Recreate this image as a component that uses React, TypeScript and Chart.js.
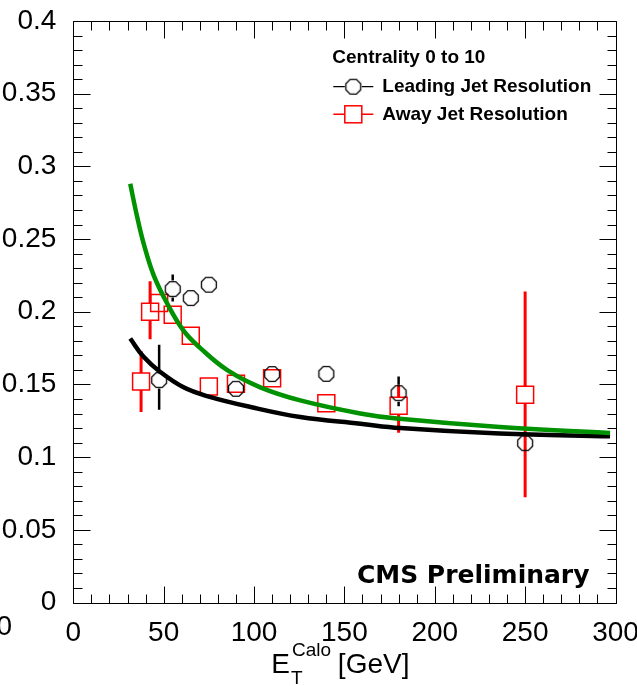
import React, { useEffect, useRef } from "react";
import { Chart, registerables } from "chart.js";

Chart.register(...registerables);

// ---------------- data ----------------
const xMin = 0;
const xMax = 300;
const xMajorStep = 50;
const xMinorStep = 10;
const yMin = 0;
const yMax = 0.4;
const yMajorStep = 0.05;
const yMinorStep = 0.01;

const legendHeader = "Centrality 0 to 10";
const leadingLabel = "Leading Jet Resolution";
const awayLabel = "Away Jet Resolution";
const cmsLabel = "CMS Preliminary";

// Leading jet resolution (black open circles)
const leadingX = [47.5, 55, 65, 75, 90, 110, 140, 180, 250];
const leadingY = [0.153, 0.2156, 0.2094, 0.2186, 0.147, 0.1571, 0.1573, 0.144, 0.1096];
const leadingLow = [0.1326, 0.2071, 0.2054, 0.2146, 0.143, 0.1531, 0.1533, 0.135, 0.1046];
const leadingHigh = [0.1773, 0.2256, 0.2134, 0.2226, 0.151, 0.1611, 0.1613, 0.1555, 0.1146];

// Away jet resolution (red open squares)
const awayX = [37.5, 42.5, 47.5, 55, 65, 75, 90, 110, 140, 180, 250];
const awayY = [0.152, 0.2, 0.206, 0.198, 0.1835, 0.1486, 0.1504, 0.1543, 0.137, 0.1353, 0.1429];
const awayLow = [0.131, 0.181, 0.201, 0.193, 0.1785, 0.1436, 0.1454, 0.1493, 0.132, 0.1167, 0.0724];
const awayHigh = [0.173, 0.221, 0.211, 0.203, 0.1885, 0.1536, 0.1554, 0.1593, 0.142, 0.1497, 0.214];

// Fitted curves
const greenFitX = [31.5, 35.2, 38.9, 44.5, 51.8, 61, 70.3, 85, 103.5, 125.6, 158.8, 179, 236, 297];
const greenFitY = [0.288, 0.266, 0.247, 0.225, 0.206, 0.187, 0.175, 0.16, 0.148, 0.139, 0.13, 0.1265, 0.1207, 0.1166];
const blackFitX = [31.5, 38.9, 48.1, 61, 74, 98, 125.6, 158.8, 181, 236, 297];
const blackFitY = [0.1816, 0.169, 0.1586, 0.148, 0.142, 0.1345, 0.1276, 0.123, 0.12, 0.1162, 0.1143];

const toPoints = (xs: number[], ys: number[]) => xs.map((x, i) => ({ x, y: ys[i] }));

// ---------------- helpers ----------------
const MARKER_HALF = 8.5;

function makeOctagon(size: number, color: string, lw: number) {
  const c = document.createElement("canvas");
  c.width = size;
  c.height = size;
  const ctx = c.getContext("2d")!;
  const r = size / 2 - lw / 2 - 0.3;
  ctx.beginPath();
  for (let i = 0; i < 8; i++) {
    const a = Math.PI / 8 + (i * Math.PI) / 4;
    const px = size / 2 + r * Math.cos(a);
    const py = size / 2 + r * Math.sin(a);
    if (i === 0) ctx.moveTo(px, py);
    else ctx.lineTo(px, py);
  }
  ctx.closePath();
  ctx.strokeStyle = color;
  ctx.lineWidth = lw;
  ctx.stroke();
  return c;
}

const TICK_FONT = "'Liberation Sans', Arial, sans-serif";

export default function App() {
  const ref = useRef<HTMLCanvasElement | null>(null);

  useEffect(() => {
    const canvas = ref.current;
    if (!canvas) return;
    const octagon = makeOctagon(18, "#000000", 1.3);

    const errorBars = {
      id: "errorBars",
      beforeDatasetsDraw(chart: any) {
        const { ctx, chartArea } = chart;
        const xs = chart.scales.x;
        const ys = chart.scales.y;
        ctx.save();
        ctx.beginPath();
        ctx.rect(chartArea.left, chartArea.top, chartArea.right - chartArea.left, chartArea.bottom - chartArea.top);
        ctx.clip();
        const drawSet = (X: number[], Y: number[], L: number[], H: number[], color: string, lw: number) => {
          ctx.strokeStyle = color;
          ctx.lineWidth = lw;
          X.forEach((x, i) => {
            const px = xs.getPixelForValue(x);
            const py = ys.getPixelForValue(Y[i]);
            const pl = ys.getPixelForValue(L[i]);
            const ph = ys.getPixelForValue(H[i]);
            if (ph < py - MARKER_HALF) {
              ctx.beginPath();
              ctx.moveTo(px, ph);
              ctx.lineTo(px, py - MARKER_HALF);
              ctx.stroke();
            }
            if (pl > py + MARKER_HALF) {
              ctx.beginPath();
              ctx.moveTo(px, py + MARKER_HALF);
              ctx.lineTo(px, pl);
              ctx.stroke();
            }
          });
        };
        drawSet(awayX, awayY, awayLow, awayHigh, "#ff0000", 3);
        drawSet(leadingX, leadingY, leadingLow, leadingHigh, "#000000", 2.5);
        ctx.restore();
      },
    };

    const frame = {
      id: "frameTicks",
      afterDatasetsDraw(chart: any) {
        const { ctx, chartArea } = chart;
        const xs = chart.scales.x;
        const ys = chart.scales.y;
        const L = Math.round(chartArea.left) + 0.5;
        const R = Math.round(chartArea.right) + 0.5;
        const T = Math.round(chartArea.top) + 0.5;
        const B = Math.round(chartArea.bottom) + 0.5;
        ctx.save();
        ctx.strokeStyle = "#000";
        ctx.lineWidth = 1;
        ctx.beginPath();
        ctx.rect(L, T, R - L, B - T);
        ctx.stroke();
        const nx = Math.round((xMax - xMin) / xMinorStep);
        const perX = Math.round(xMajorStep / xMinorStep);
        for (let i = 0; i <= nx; i++) {
          const v = xMin + i * xMinorStep;
          const px = Math.round(xs.getPixelForValue(v)) + 0.5;
          const len = i % perX === 0 ? 17 : 9;
          ctx.beginPath();
          ctx.moveTo(px, B);
          ctx.lineTo(px, B - len);
          ctx.moveTo(px, T);
          ctx.lineTo(px, T + len);
          ctx.stroke();
        }
        const ny = Math.round((yMax - yMin) / yMinorStep);
        const perY = Math.round(yMajorStep / yMinorStep);
        for (let i = 0; i <= ny; i++) {
          const v = yMin + i * yMinorStep;
          const py = Math.round(ys.getPixelForValue(v)) + 0.5;
          const len = i % perY === 0 ? 17 : 9;
          ctx.beginPath();
          ctx.moveTo(L, py);
          ctx.lineTo(L + len, py);
          ctx.moveTo(R, py);
          ctx.lineTo(R - len, py);
          ctx.stroke();
        }
        ctx.restore();
      },
    };

    const texts = {
      id: "texts",
      afterDraw(chart: any) {
        const { ctx, chartArea } = chart;
        ctx.save();
        // legend
        const lx = chartArea.left + 259;
        ctx.fillStyle = "#000";
        ctx.textBaseline = "middle";
        ctx.textAlign = "left";
        ctx.font = "bold 19px 'Liberation Sans', Arial, sans-serif";
        ctx.fillText(legendHeader, lx, chartArea.top + 36.5);
        ctx.fillText(leadingLabel, lx + 50, chartArea.top + 66);
        ctx.fillText(awayLabel, lx + 50, chartArea.top + 93.5);
        const mx = lx + 21;
        // leading row
        let ry = chartArea.top + 65.7;
        ctx.strokeStyle = "#000";
        ctx.lineWidth = 1.3;
        ctx.beginPath();
        ctx.moveTo(lx + 1, ry);
        ctx.lineTo(mx - MARKER_HALF, ry);
        ctx.moveTo(mx + MARKER_HALF, ry);
        ctx.lineTo(lx + 41, ry);
        ctx.stroke();
        ctx.drawImage(octagon, mx - 9, ry - 9, 18, 18);
        // away row
        ry = chartArea.top + 93.3;
        ctx.strokeStyle = "#ff0000";
        ctx.lineWidth = 1.5;
        ctx.beginPath();
        ctx.moveTo(lx + 1, ry);
        ctx.lineTo(mx - MARKER_HALF, ry);
        ctx.moveTo(mx + MARKER_HALF, ry);
        ctx.lineTo(lx + 41, ry);
        ctx.stroke();
        ctx.strokeRect(mx - MARKER_HALF, ry - MARKER_HALF, 2 * MARKER_HALF, 2 * MARKER_HALF);

        // CMS Preliminary
        ctx.fillStyle = "#000";
        ctx.textAlign = "right";
        ctx.textBaseline = "alphabetic";
        ctx.font = "bold 25px 'DejaVu Sans', sans-serif";
        ctx.fillText(cmsLabel, chartArea.right - 26, chartArea.bottom - 20);

        // stray clipped label at far left
        ctx.font = `28px ${TICK_FONT}`;
        ctx.textAlign = "right";
        ctx.textBaseline = "middle";
        ctx.fillText("0", 12, chartArea.bottom + 25);

        // x axis title  E_T^Calo [GeV]
        const big = `28px ${TICK_FONT}`;
        const small = `19px ${TICK_FONT}`;
        ctx.textAlign = "left";
        ctx.textBaseline = "alphabetic";
        ctx.font = big;
        const wE = ctx.measureText("E").width;
        const wRest = ctx.measureText(" [GeV]").width;
        ctx.font = small;
        const wSup = ctx.measureText("Calo").width;
        const total = wE + wSup + wRest + 1;
        const cx = (chartArea.left + chartArea.right) / 2 - 4;
        const x0 = cx - total / 2;
        const base = chartArea.bottom + 70;
        ctx.font = big;
        ctx.fillText("E", x0, base);
        ctx.font = small;
        ctx.fillText("T", x0 + wE + 1, base + 11);
        ctx.fillText("Calo", x0 + wE + 2, base - 17);
        ctx.font = big;
        ctx.fillText(" [GeV]", x0 + wE + wSup + 1, base);
        ctx.restore();
      },
    };

    const chart = new Chart(canvas, {
      type: "scatter",
      data: {
        datasets: [
          {
            label: "green fit",
            data: toPoints(greenFitX, greenFitY),
            showLine: true,
            borderColor: "#009200",
            borderWidth: 4.5,
            pointRadius: 0,
            tension: 0.4,
            fill: false,
          } as any,
          {
            label: "black fit",
            data: toPoints(blackFitX, blackFitY),
            showLine: true,
            borderColor: "#000000",
            borderWidth: 4.5,
            pointRadius: 0,
            tension: 0.4,
            fill: false,
          } as any,
          {
            label: leadingLabel,
            data: toPoints(leadingX, leadingY),
            showLine: false,
            pointStyle: octagon as any,
            pointRadius: 9,
          },
          {
            label: awayLabel,
            data: toPoints(awayX, awayY),
            showLine: false,
            pointStyle: "rect",
            pointRadius: 12,
            borderColor: "#ff0000",
            borderWidth: 1.5,
            backgroundColor: "rgba(0,0,0,0)",
          },
        ],
      },
      options: {
        animation: false,
        responsive: false,
        devicePixelRatio: 1,
        events: [],
        layout: { padding: { top: 21, right: 21.5, left: 0, bottom: 0 } },
        plugins: {
          legend: { display: false },
          tooltip: { enabled: false },
        },
        scales: {
          x: {
            type: "linear",
            min: xMin,
            max: xMax,
            grid: { display: false },
            border: { display: false },
            ticks: {
              stepSize: xMajorStep,
              autoSkip: false,
              maxRotation: 0,
              padding: 6,
              color: "#000",
              font: { family: TICK_FONT, size: 28 },
            },
            afterFit(s: any) {
              s.height = 83.5;
              s.paddingLeft = 0;
              s.paddingRight = 0;
            },
          },
          y: {
            type: "linear",
            min: yMin,
            max: yMax,
            grid: { display: false },
            border: { display: false },
            ticks: {
              stepSize: yMajorStep,
              autoSkip: false,
              padding: 9,
              color: "#000",
              font: { family: TICK_FONT, size: 28 },
              callback: (v: any) => String(Math.round(Number(v) * 100) / 100),
            },
            afterFit(s: any) {
              s.width = 73.3;
              s.paddingTop = 0;
              s.paddingBottom = 0;
            },
          },
        },
      },
      plugins: [errorBars, frame, texts],
    });
    return () => chart.destroy();
  }, []);

  return (
    <div style={{ position: "fixed", left: 0, top: 0, width: 637, height: 686, background: "#fff" }}>
      <canvas ref={ref} width={637} height={686} style={{ display: "block" }} />
    </div>
  );
}
